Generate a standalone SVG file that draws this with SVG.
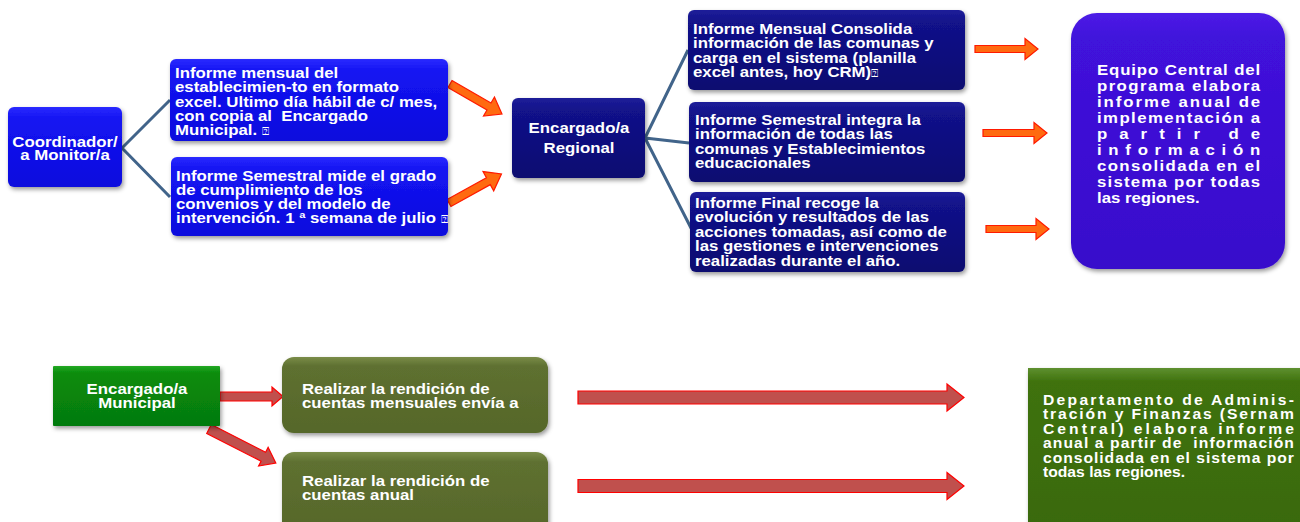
<svg xmlns="http://www.w3.org/2000/svg" width="1300" height="522" viewBox="0 0 1300 522">
<style>
.t{font-family:"Liberation Sans",Arial,sans-serif;font-weight:bold;font-size:14px;fill:#ffffff}
.q{font-family:"DejaVu Sans",sans-serif;font-size:10px;font-weight:normal}
.link{fill:none;stroke:#41648A;stroke-width:3}
.oarr{fill:#FF6A10;stroke:#FF1A00;stroke-width:1.2}
.rarr{fill:#C0504D;stroke:#FF0000;stroke-width:1.2}
</style>
<defs>
<filter id="sh" x="-10%" y="-10%" width="125%" height="130%">
<feDropShadow dx="1.5" dy="2.5" stdDeviation="2" flood-color="#000" flood-opacity="0.4"/>
</filter>
<linearGradient id="gBlue" x1="0" y1="0" x2="0" y2="1">
<stop offset="0" stop-color="#2A2AFF"/><stop offset="0.15" stop-color="#1414F2"/><stop offset="1" stop-color="#0B0BDD"/>
</linearGradient>
<linearGradient id="gNavy" x1="0" y1="0" x2="0" y2="1">
<stop offset="0" stop-color="#1E1E99"/><stop offset="0.15" stop-color="#12128A"/><stop offset="1" stop-color="#0A0A70"/>
</linearGradient>
<linearGradient id="gViolet" x1="0" y1="0" x2="0" y2="1">
<stop offset="0" stop-color="#4C1CE6"/><stop offset="0.1" stop-color="#4012DB"/><stop offset="1" stop-color="#380CCB"/>
</linearGradient>
<linearGradient id="gGreen" x1="0" y1="0" x2="0" y2="1">
<stop offset="0" stop-color="#22A822"/><stop offset="0.12" stop-color="#098C0C"/><stop offset="1" stop-color="#057A07"/>
</linearGradient>
<linearGradient id="gOlive" x1="0" y1="0" x2="0" y2="1">
<stop offset="0" stop-color="#7A8C48"/><stop offset="0.12" stop-color="#5E7030"/><stop offset="1" stop-color="#56672A"/>
</linearGradient>
<linearGradient id="gDept" x1="0" y1="0" x2="0" y2="1">
<stop offset="0" stop-color="#5E9030"/><stop offset="0.08" stop-color="#3F720D"/><stop offset="1" stop-color="#39690A"/>
</linearGradient>
</defs>

<g id="connectors">
<path class="link" d="M122,148 L170,100 M122,148 L170,197"/>
<path class="link" d="M645,138 L688,50 M645,138 L689,143 M645,138 L692,230"/>
<path class="oarr" transform="translate(450,84) rotate(30)" d="M0,-4 L45,-4 L45,-11 L60,0 L45,11 L45,4 L0,4 Z"/>
<path class="oarr" transform="translate(449,203) rotate(-29)" d="M0,-4 L45,-4 L45,-11 L60,0 L45,11 L45,4 L0,4 Z"/>
<path class="oarr" d="M975,45.5 L1025,45.5 L1025,38.5 L1038,49 L1025,59.5 L1025,52.5 L975,52.5 Z"/>
<path class="oarr" d="M983,129.5 L1034,129.5 L1034,122.5 L1047,133 L1034,143.5 L1034,136.5 L983,136.5 Z"/>
<path class="oarr" d="M986,225.5 L1036,225.5 L1036,218.5 L1049,229 L1036,239.5 L1036,232.5 L986,232.5 Z"/>
<path class="rarr" d="M220,392 L272,392 L272,387 L283,396.5 L272,406 L272,401 L220,401 Z"/>
<path class="rarr" transform="translate(209,429) rotate(27)" d="M0,-5 L61,-5 L61,-10.5 L75,0 L61,10.5 L61,5 L0,5 Z"/>
<path class="rarr" d="M578,391 L947,391 L947,384 L964,397.5 L947,411 L947,404 L578,404 Z"/>
<path class="rarr" d="M578,479.5 L947,479.5 L947,472.5 L964,486 L947,499.5 L947,492.5 L578,492.5 Z"/>
</g>

<g id="coordinador">
<rect x="8" y="107" width="114" height="80" rx="6" fill="url(#gBlue)" filter="url(#sh)"/>
<text class="t" transform="translate(65,0) scale(1.2,1)" text-anchor="middle"><tspan x="0" y="147">Coordinador/</tspan><tspan x="0" y="160">a Monitor/a</tspan></text>
</g>

<g id="informe-mensual">
<rect x="170" y="59" width="278" height="82" rx="6" fill="url(#gBlue)" filter="url(#sh)"/>
<text class="t" xml:space="preserve" transform="translate(175,0) scale(1.2,1)"><tspan x="0" y="78">Informe mensual del</tspan><tspan x="0" y="92.3">establecimien-to en formato</tspan><tspan x="0" y="106.6">excel. Ultimo día hábil de c/ mes,</tspan><tspan x="0" y="120.9">con copia al  Encargado</tspan><tspan x="0" y="135.2">Municipal. <tspan class="q">⍰</tspan></tspan></text>
</g>

<g id="informe-semestral">
<rect x="171" y="157" width="277" height="79" rx="6" fill="url(#gBlue)" filter="url(#sh)"/>
<text class="t" transform="translate(176,0) scale(1.2,1)"><tspan x="0" y="181">Informe Semestral mide el grado</tspan><tspan x="0" y="195">de cumplimiento de los</tspan><tspan x="0" y="209">convenios y del modelo de</tspan><tspan x="0" y="223">intervención. 1 ª semana de julio <tspan class="q">⍰</tspan></tspan></text>
</g>

<g id="regional">
<rect x="512" y="98" width="133" height="80" rx="6" fill="url(#gNavy)" filter="url(#sh)"/>
<text class="t" transform="translate(579,0) scale(1.2,1)" text-anchor="middle"><tspan x="0" y="133">Encargado/a</tspan><tspan x="0" y="153">Regional</tspan></text>
</g>

<g id="regional-mensual">
<rect x="688" y="10" width="277" height="80" rx="6" fill="url(#gNavy)" filter="url(#sh)"/>
<text class="t" transform="translate(693,0) scale(1.2,1)"><tspan x="0" y="34">Informe Mensual Consolida</tspan><tspan x="0" y="48.3">información de las comunas y</tspan><tspan x="0" y="62.6">carga en el sistema (planilla</tspan><tspan x="0" y="76.9">excel antes, hoy CRM)<tspan class="q">⍰</tspan></tspan></text>
</g>

<g id="regional-semestral">
<rect x="689" y="102" width="276" height="80" rx="6" fill="url(#gNavy)" filter="url(#sh)"/>
<text class="t" transform="translate(695,0) scale(1.2,1)"><tspan x="0" y="125">Informe Semestral integra la</tspan><tspan x="0" y="139.5">información de todas las</tspan><tspan x="0" y="154">comunas y Establecimientos</tspan><tspan x="0" y="168.5">educacionales</tspan></text>
</g>

<g id="regional-final">
<rect x="690" y="192" width="275" height="80" rx="6" fill="url(#gNavy)" filter="url(#sh)"/>
<text class="t" transform="translate(695,0) scale(1.2,1)"><tspan x="0" y="208">Informe Final recoge la</tspan><tspan x="0" y="222.5">evolución y resultados de las</tspan><tspan x="0" y="237">acciones tomadas, así como de</tspan><tspan x="0" y="251.5">las gestiones e intervenciones</tspan><tspan x="0" y="266">realizadas durante el año.</tspan></text>
</g>

<g id="equipo-central">
<rect x="1071" y="13" width="214" height="256" rx="26" fill="url(#gViolet)" filter="url(#sh)"/>
<g class="t" transform="translate(1097,0) scale(1.2,1)">
<text x="0" y="75" textLength="136" lengthAdjust="spacing">Equipo Central del</text>
<text x="0" y="91" textLength="136" lengthAdjust="spacing">programa elabora</text>
<text x="0" y="107" textLength="136" lengthAdjust="spacing">informe anual de</text>
<text x="0" y="123" textLength="136" lengthAdjust="spacing">implementación a</text>
<text x="0" y="139" textLength="136" lengthAdjust="spacing">partir de</text>
<text x="0" y="155" textLength="136" lengthAdjust="spacing">información</text>
<text x="0" y="171" textLength="136" lengthAdjust="spacing">consolidada en el</text>
<text x="0" y="187" textLength="136" lengthAdjust="spacing">sistema por todas</text>
<text x="0" y="203">las regiones.</text>
</g>
</g>

<g id="municipal">
<rect x="53" y="366" width="167" height="60" rx="1" fill="url(#gGreen)" filter="url(#sh)"/>
<text class="t" transform="translate(137,0) scale(1.2,1)" text-anchor="middle"><tspan x="0" y="394">Encargado/a</tspan><tspan x="0" y="408">Municipal</tspan></text>
</g>

<g id="rendicion-mensual">
<rect x="282" y="357" width="266" height="76" rx="12" fill="url(#gOlive)" filter="url(#sh)"/>
<text class="t" transform="translate(302,0) scale(1.2,1)"><tspan x="0" y="394">Realizar la rendición de</tspan><tspan x="0" y="408">cuentas mensuales envía a</tspan></text>
</g>

<g id="rendicion-anual">
<rect x="282" y="452" width="266" height="84" rx="12" fill="url(#gOlive)" filter="url(#sh)"/>
<text class="t" transform="translate(302,0) scale(1.2,1)"><tspan x="0" y="486">Realizar la rendición de</tspan><tspan x="0" y="500">cuentas anual</tspan></text>
</g>

<g id="departamento">
<rect x="1028" y="368" width="285" height="170" fill="url(#gDept)" filter="url(#sh)"/>
<g class="t" transform="translate(1043,0) scale(1.12,1)">
<text x="0" y="405" textLength="224" lengthAdjust="spacing">Departamento de Adminis-</text>
<text x="0" y="419.5" textLength="224" lengthAdjust="spacing">tración y Finanzas (Sernam</text>
<text x="0" y="434" textLength="224" lengthAdjust="spacing">Central) elabora informe</text>
<text x="0" y="448.5" textLength="224" lengthAdjust="spacing" xml:space="preserve">anual a partir de  información</text>
<text x="0" y="463" textLength="224" lengthAdjust="spacing">consolidada en el sistema por</text>
<text x="0" y="477.5">todas las regiones.</text>
</g>
</g>
</svg>
